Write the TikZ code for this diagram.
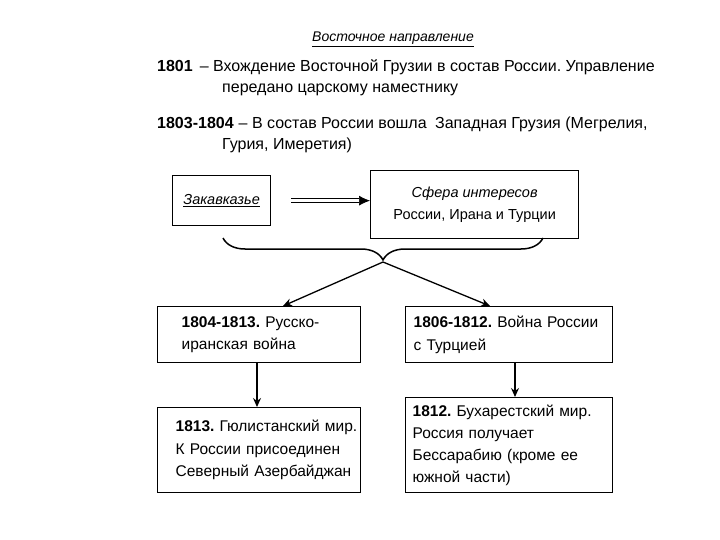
\documentclass[tikz,border=0pt]{standalone}
\usepackage{fontspec}
\setmainfont{Liberation Sans}
\usetikzlibrary{arrows.meta,decorations.pathreplacing}
\frenchspacing
\begin{document}
\begin{tikzpicture}[x=1pt,y=1pt,
  txt/.style={anchor=base west, inner sep=0pt, font=\fontsize{16}{21}\selectfont},
  box/.style={draw, line width=1.3pt, anchor=north west, align=left,
    font=\fontsize{15.5}{22.5}\selectfont, inner ysep=0pt},
  conn/.style={line width=1.3pt, -{Stealth[length=9pt,width=8pt,inset=3pt]}}]
\useasboundingbox (0,0) rectangle (720,-540);
% heading
\node[anchor=base, inner sep=0pt, font=\fontsize{14}{16}\selectfont\itshape] (title) at (393,-42) {\underline{Восточное направление}};
\node[txt] (y1801) at (157,-72) {\textbf{1801}\hspace{7pt}– Вхождение Восточной Грузии в состав России. Управление};
\node[txt] (y1801b) at (222,-93) {передано царскому наместнику};
\node[txt] (y1803) at (157,-129) {\textbf{1803-1804}\hspace{5pt}– В состав России вошла\hspace{4pt} Западная Грузия (Мегрелия,};
\node[txt] (y1803b) at (222,-150) {Гурия, Имеретия)};
% top boxes
\node[draw, line width=1.3pt, minimum width=98pt, minimum height=50pt, anchor=north west, font=\fontsize{14.5}{16}\selectfont\itshape] (zak) at (172,-175) {\underline{Закавказье}};
\node[draw, line width=1.3pt, minimum width=208pt, minimum height=68pt, anchor=north west, align=center, font=\fontsize{14.5}{22}\selectfont] (sfera) at (370,-170) {\textit{Сфера интересов}\\России, Ирана и Турции};
\draw[line width=0.7pt, double, double distance=3pt, -{Latex[length=11pt,width=10pt]}, shorten <=20pt] (zak.east) -- (zak.east -| sfera.west);
% brace
\coordinate (brL) at (223,-238);
\coordinate (brR) at (543,-238);
\coordinate (brT) at (383,-262);
\draw[line width=1.5pt, decorate, decoration={brace, mirror, amplitude=22pt}] (brL) -- (brR);
% lower boxes
\node[box, text width=155pt, inner xsep=24pt, minimum height=56pt] (b1) at (157,-306) {\mbox{\textbf{1804-1813.} Русско-}\\\mbox{иранская война}};
\node[box, text width=191pt, inner xsep=8pt, minimum height=56pt] (b2) at (405,-306) {\mbox{\textbf{1806-1812.} Война России}\\\mbox{с Турцией}};
\node[box, text width=167pt, inner xsep=18pt, minimum height=85pt] (b3) at (157,-407) {\mbox{\textbf{1813.} Гюлистанский мир.}\\\mbox{К России присоединен}\\\mbox{Северный Азербайджан}};
\node[box, text width=193pt, inner xsep=7pt, minimum height=95pt, font=\fontsize{15.5}{22}\selectfont] (b4) at (405,-397) {\mbox{\textbf{1812.} Бухарестский мир.}\\\mbox{Россия получает}\\\mbox{Бессарабию (кроме ее}\\\mbox{южной части)}};
\coordinate (a1) at (283,0);
\coordinate (a2) at (490,0);
\coordinate (v1) at (257,0);
\coordinate (v2) at (515,0);
\draw[conn] (brT) -- (b1.north -| a1);
\draw[conn] (brT) -- (b2.north -| a2);
\draw[conn] (b1.south -| v1) -- (b3.north -| v1);
\draw[conn] (b2.south -| v2) -- (b4.north -| v2);
\end{tikzpicture}
\end{document}
